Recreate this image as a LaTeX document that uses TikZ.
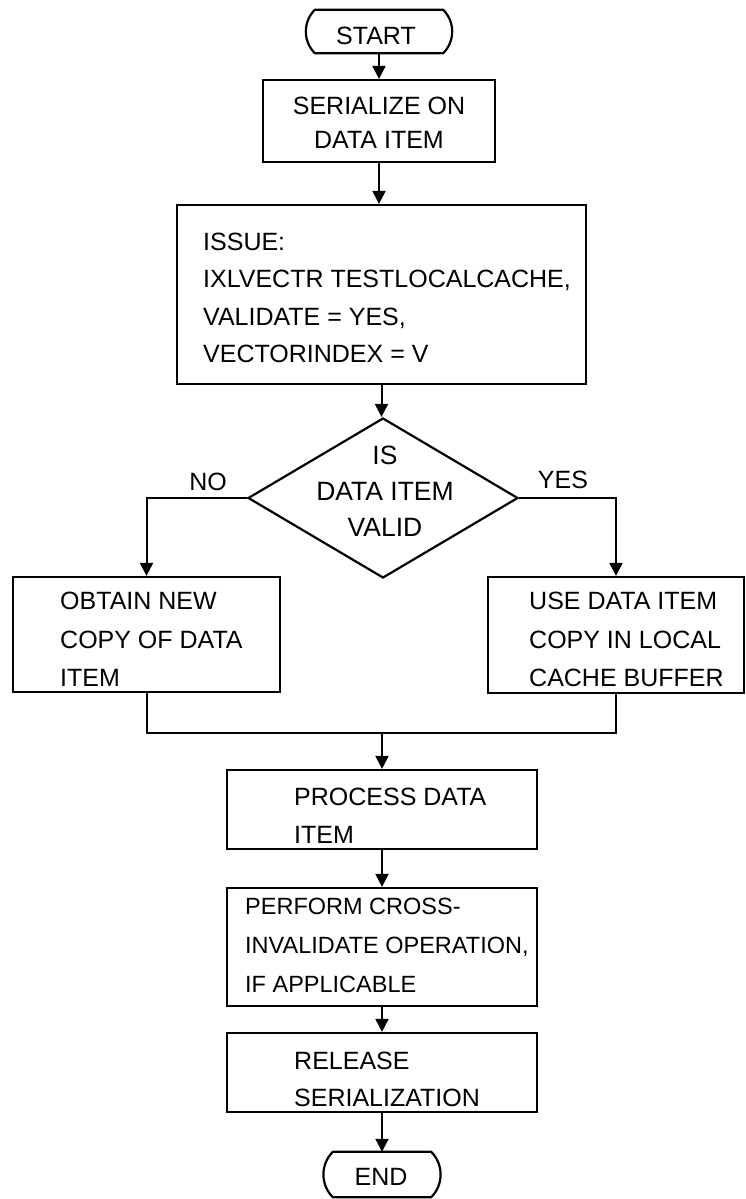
\documentclass[tikz,border=0pt]{standalone}
\usepackage{fontspec}
\setmainfont{Liberation Sans}
\usetikzlibrary{shapes.geometric,arrows.meta,calc}
\tikzset{
  box/.style={draw, line width=2.2pt, inner sep=0pt},
  term/.style={inner sep=0pt},
  outline/.style={line width=2.2pt, line join=round},
  dec/.style={draw, line width=2.2pt, inner sep=0pt, diamond},
  txt/.style={inner sep=0pt, align=left, font=\fontsize{25}{#1}\selectfont},
  txt/.default=38,
  ctxt/.style={inner sep=0pt, align=center, font=\fontsize{25}{#1}\selectfont},
  ctxt/.default=38,
  line/.style={line width=2pt},
  arr/.style={line width=2pt, -{Triangle[length=13pt,width=13pt]}}
}
\newcommand{\termoutline}[1]{%
  \draw[outline] ($(#1.north west)+(10,0)$) -- ($(#1.north east)+(-10,0)$)
    to[bend left=45] ($(#1.south east)+(-10,0)$)
    -- ($(#1.south west)+(10,0)$)
    to[bend left=45] ($(#1.north west)+(10,0)$) -- cycle;}
\begin{document}
\begin{tikzpicture}[x=1pt,y=-1pt]
\useasboundingbox (0,0) rectangle (746,1199);
% shapes
\node[term, minimum width=148pt, minimum height=43pt] (start) at (379,31.5) {};
\termoutline{start}
\node[box, minimum width=232pt, minimum height=82pt] (ser) at (379,121) {};
\node[box, minimum width=409pt, minimum height=179pt] (issue) at (381.5,294.5) {};
\node[dec, minimum width=270pt, minimum height=160pt] (dia) at (383,498) {};
\node[box, minimum width=267pt, minimum height=115pt] (obtain) at (146.5,634.5) {};
\node[box, minimum width=256pt, minimum height=116pt] (use) at (616,635) {};
\node[box, minimum width=310pt, minimum height=79pt] (process) at (382,809.5) {};
\node[box, minimum width=310pt, minimum height=118pt] (perform) at (382,947) {};
\node[box, minimum width=310pt, minimum height=79pt] (release) at (382,1072.5) {};
\node[term, minimum width=118pt, minimum height=45pt] (end) at (382,1174.5) {};
\termoutline{end}
% texts
\node[ctxt, anchor=north] (startt) at (376,27) {START};
\node[ctxt=34, anchor=north] (sert) at (379,97) {SERIALIZE ON\\DATA ITEM};
\node[txt=37.3, anchor=north west] (issuet) at (203,233) {ISSUE:\\IXLVECTR TESTLOCALCACHE,\\VALIDATE = YES,\\VECTORINDEX = V};
\node[inner sep=0pt, align=center, font=\fontsize{26.5}{36}\selectfont, anchor=north] (diat) at (385,446) {IS\\DATA ITEM\\VALID};
\node[ctxt, anchor=north] (no) at (208,473) {NO};
\node[ctxt, anchor=north] (yes) at (563,471) {YES};
\node[txt=38.5, anchor=north west] (obtaint) at (60,592) {OBTAIN NEW\\COPY OF DATA\\ITEM};
\node[txt=38.5, anchor=north west] (uset) at (529,592) {USE DATA ITEM\\COPY IN LOCAL\\CACHE BUFFER};
\node[txt=38, anchor=north west] (processt) at (294,788) {PROCESS DATA\\ITEM};
\node[inner sep=0pt, align=left, font=\fontsize{23.5}{39}\selectfont, anchor=north west] (performt) at (245,898) {PERFORM CROSS-\\INVALIDATE OPERATION,\\IF APPLICABLE};
\node[txt=37, anchor=north west] (releaset) at (294,1052) {RELEASE\\SERIALIZATION};
\node[ctxt, anchor=north] (endt) at (381,1168) {END};
% connectors
\coordinate (mj) at (382,733);
\draw[arr] (start.south) -- (ser.north);
\draw[arr] (ser.south) -- (ser.south |- issue.north);
\draw[arr] (issue.south) -- (issue.south |- dia.north);
\draw[arr] (dia.west) -| (obtain.north);
\draw[arr] (dia.east) -| (use.north);
\draw[line] (obtain.south) |- (mj);
\draw[line] (use.south) |- (mj);
\draw[arr] (mj) -- (process.north);
\draw[arr] (process.south) -- (perform.north);
\draw[arr] (perform.south) -- (release.north);
\draw[arr] (release.south) -- (end.north);
\end{tikzpicture}
\end{document}
